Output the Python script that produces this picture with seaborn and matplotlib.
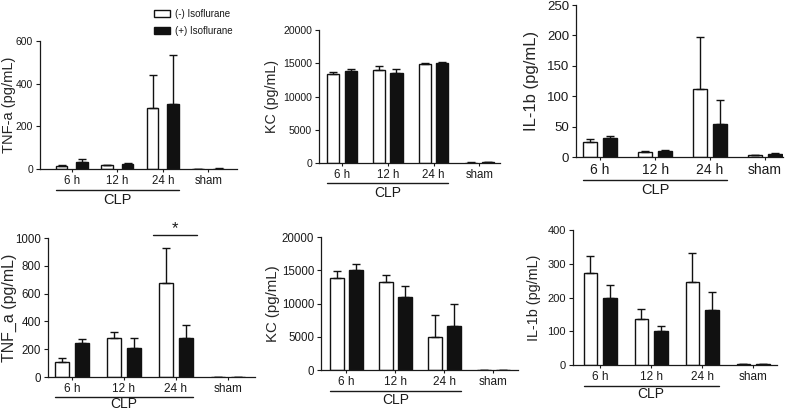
import numpy as np
import pandas as pd
import matplotlib
matplotlib.use("Agg")
import matplotlib.pyplot as plt
import matplotlib.transforms as mtransforms
from matplotlib.patches import Patch
import seaborn as sns

sns.set_style("ticks")
plt.rcParams['font.family'] = ['Liberation Sans', 'DejaVu Sans']
plt.rcParams['text.color'] = '#1a1a1a'

# ==========================================================
# DATA
# ==========================================================

groups = ["6 h", "12 h", "24 h", "sham"]
treat = ["(-) Isoflurane", "(+) Isoflurane"]

tnf_top_minus = [16, 17, 285, 1]
tnf_top_minus_err = [4, 2, 155, 0.5]
tnf_top_plus = [33, 22, 305, 2]
tnf_top_plus_err = [14, 5, 230, 0.5]

kc_top_minus = [13400, 14050, 14900, 60]
kc_top_minus_err = [300, 600, 200, 30]
kc_top_plus = [13800, 13500, 15000, 80]
kc_top_plus_err = [400, 600, 200, 30]

il_top_minus = [25, 8, 112, 3]
il_top_minus_err = [4, 1.5, 85, 1]
il_top_plus = [31, 10, 54, 5]
il_top_plus_err = [4, 1, 40, 0.8]

tnf_bot_minus = [108, 280, 675, 0]
tnf_bot_minus_err = [30, 45, 255, 0]
tnf_bot_plus = [245, 208, 280, 0]
tnf_bot_plus_err = [30, 75, 95, 0]

kc_bot_minus = [13900, 13200, 5000, 0]
kc_bot_minus_err = [1050, 1150, 3250, 0]
kc_bot_plus = [15050, 11050, 6600, 0]
kc_bot_plus_err = [850, 1600, 3300, 0]

il_bot_minus = [273, 136, 245, 3]
il_bot_minus_err = [50, 29, 87, 0]
il_bot_plus = [200, 100, 162, 4]
il_bot_plus_err = [38, 15, 55, 0]

# ==========================================================
# LAYOUT (pixel boxes of each axes: left, top, right, bottom)
# ==========================================================

W, H = 791, 411
fig = plt.figure(figsize=(W / 100, H / 100), dpi=100)

panels = [
    dict(box=(40, 41, 237, 169), ylabel="TNF-a (pg/mL)", ymax=600, step=200, xlim=(-0.7, 3.63),
         minus=tnf_top_minus, minus_err=tnf_top_minus_err, plus=tnf_top_plus, plus_err=tnf_top_plus_err,
         width=0.9, gap=0.45, fs=(7.5, 8.3, 10.5, 10.5), yoff=24, clp=(21, 31)),
    dict(box=(319, 30, 500, 163), ylabel="KC (pg/mL)", ymax=20000, step=5000, xlim=(-0.5, 3.45),
         minus=kc_top_minus, minus_err=kc_top_minus_err, plus=kc_top_plus, plus_err=kc_top_plus_err,
         width=0.76, gap=0.3, fs=(7.6, 8.3, 10.3, 10), yoff=40, clp=(20, 30)),
    dict(box=(576, 5, 783, 157), ylabel="IL-1b (pg/mL)", ymax=250, step=50, xlim=(-0.44, 3.33),
         minus=il_top_minus, minus_err=il_top_minus_err, plus=il_top_plus, plus_err=il_top_plus_err,
         width=0.72, gap=0.3, fs=(9.5, 10, 12, 10.5), yoff=37, clp=(23, 33)),
    dict(box=(48, 238, 255, 377), ylabel="TNF_a (pg/mL)", ymax=1000, step=200, xlim=(-0.46, 3.52),
         minus=tnf_bot_minus, minus_err=tnf_bot_minus_err, plus=tnf_bot_plus, plus_err=tnf_bot_plus_err,
         width=0.78, gap=0.3, fs=(8.3, 8.5, 11.5, 10), yoff=31, clp=(20, 27)),
    dict(box=(321, 237, 518, 370), ylabel="KC (pg/mL)", ymax=20000, step=5000, xlim=(-0.52, 3.5),
         minus=kc_bot_minus, minus_err=kc_bot_minus_err, plus=kc_bot_plus, plus_err=kc_bot_plus_err,
         width=0.78, gap=0.3, fs=(8.3, 8.5, 10.8, 10), yoff=41, clp=(21, 30)),
    dict(box=(573, 230, 777, 365), ylabel="IL-1b (pg/mL)", ymax=400, step=100, xlim=(-0.53, 3.47),
         minus=il_bot_minus, minus_err=il_bot_minus_err, plus=il_bot_plus, plus_err=il_bot_plus_err,
         width=0.76, gap=0.3, fs=(8, 8.5, 10.4, 10), yoff=32, clp=(21, 29)),
]

axes = []
for p in panels:
    l, t, r, b = p["box"]
    wpx, hpx = r - l, b - t
    ax = fig.add_axes([l / W, 1 - b / H, wpx / W, hpx / H])
    axes.append(ax)

    df = pd.DataFrame({
        "time": groups * 2,
        "treat": [treat[0]] * len(groups) + [treat[1]] * len(groups),
        "value": list(p["minus"]) + list(p["plus"]),
    })

    sns.barplot(data=df, x="time", y="value", hue="treat", order=groups, hue_order=treat,
                palette=["white", "#111111"], edgecolor="#111111", linewidth=1,
                errorbar=None, width=p["width"], gap=p["gap"], legend=False, ax=ax)

    # one-sided error bars
    for cont, errs in zip(ax.containers, [p["minus_err"], p["plus_err"]]):
        xs = [bar.get_x() + bar.get_width() / 2 for bar in cont]
        ys = [bar.get_height() for bar in cont]
        ax.errorbar(xs, ys, yerr=[np.zeros(len(errs)), errs], fmt="none",
                    ecolor="#111111", elinewidth=1, capsize=3, capthick=1, zorder=1)

    ax.set_xlim(*p["xlim"])
    ax.set_ylim(0, p["ymax"])
    ax.set_yticks(np.arange(0, p["ymax"] + 1, p["step"]))
    ax.set_xlabel("")
    ax.set_ylabel(p["ylabel"], fontsize=p["fs"][2])
    ax.yaxis.set_label_coords(-p["yoff"] / wpx, 0.5)
    ax.tick_params(axis="y", labelsize=p["fs"][0], length=3, width=0.8, pad=2, colors="#1a1a1a")
    ax.tick_params(axis="x", labelsize=p["fs"][1], length=2.5, width=0.8, pad=2, colors="#1a1a1a")
    sns.despine(ax=ax)
    for s in ["left", "bottom"]:
        ax.spines[s].set_linewidth(0.9)
        ax.spines[s].set_color("#1a1a1a")

    # CLP bracket under the first three groups
    x0 = ax.containers[0][0].get_x()
    x1 = ax.containers[1][2].get_x() + ax.containers[1][2].get_width()
    trans = mtransforms.blended_transform_factory(ax.transData, ax.transAxes)
    line_off, text_off = p["clp"]
    ax.plot([x0, x1], [-line_off / hpx] * 2, color="#1a1a1a", lw=1, transform=trans, clip_on=False)
    ax.text((x0 + x1) / 2, -text_off / hpx, "CLP", transform=trans, ha="center", va="center",
            fontsize=p["fs"][3])

# significance marker, bottom-left panel, 24 h group
ax = axes[3]
i24 = groups.index("24 h")
ax.plot([i24 - 0.44, i24 + 0.41], [1025, 1025], color="#1a1a1a", lw=1, clip_on=False)
ax.text(i24 - 0.02, 1065, "*", ha="center", va="center", fontsize=12)

# legend
fig.legend(handles=[Patch(facecolor="white", edgecolor="#111111", linewidth=1),
                    Patch(facecolor="#111111", edgecolor="#111111", linewidth=1)],
           labels=treat, loc="upper left", bbox_to_anchor=(154 / W, 1 - 9 / H),
           frameon=False, fontsize=7, handlelength=1.6, handleheight=0.7,
           handletextpad=0.6, labelspacing=0.7, borderaxespad=0, borderpad=0)

plt.savefig("out.png", dpi=100)
plt.close()
